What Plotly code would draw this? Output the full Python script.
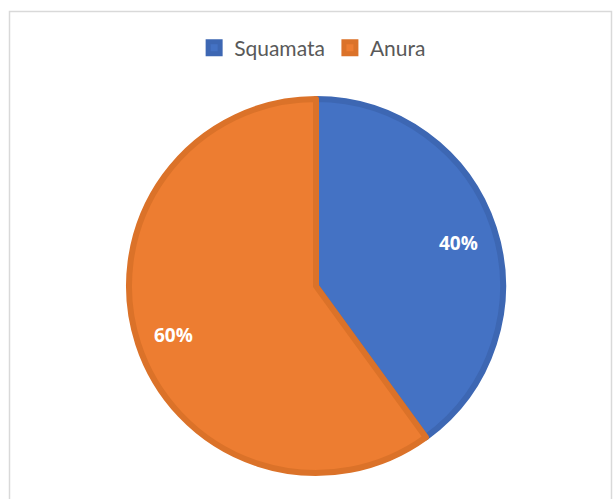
import math
import plotly.graph_objects as go

labels = ["Squamata", "Anura"]
values = [40, 60]
colors = ["#4472C4", "#ED7D31"]
edge_colors = ["#3D67B3", "#DB7229"]

W, H = 613, 499
cx, cy, r = 316, 286, 187

fig = go.Figure()
fig.add_trace(go.Pie(
    labels=labels,
    values=values,
    sort=False,
    direction="clockwise",
    rotation=0,
    marker=dict(colors=colors, line=dict(color=edge_colors, width=6)),
    textinfo="none",
    domain=dict(x=[(cx - r) / W, (cx + r) / W], y=[1 - (cy + r) / H, 1 - (cy - r) / H]),
    hoverinfo="label+percent",
))

# percent labels placed at the slice mid-angles
total = sum(values)
annotations = []
start = 0.0
for v in values:
    mid = (start + v / 2) / total * 2 * math.pi
    start += v
    d = 0.80 * r
    px = cx + d * math.sin(mid)
    py = cy - d * math.cos(mid) + 3
    annotations.append(dict(
        x=px / W, y=1 - py / H, xref="paper", yref="paper",
        text=f"<b>{round(v / total * 100)}%</b>", showarrow=False,
        font=dict(family="Open Sans", size=19, color="white"),
        xanchor="center", yanchor="middle",
    ))

fig.update_layout(
    width=W, height=H,
    margin=dict(l=0, r=0, t=0, b=0),
    paper_bgcolor="white",
    showlegend=True,
    legend=dict(
        orientation="h", x=0.51, xanchor="center", y=1 - 48 / H, yanchor="middle",
        font=dict(family="Lato", size=21, color="#595959"),
        itemwidth=30, traceorder="normal",
    ),
    annotations=annotations,
    shapes=[dict(
        type="rect", xref="paper", yref="paper",
        x0=9.5 / W, x1=611.5 / W, y0=-0.02, y1=1 - 11.5 / H,
        line=dict(color="#D9D9D9", width=1.5), fillcolor="rgba(0,0,0,0)", layer="below",
    )],
)

fig.write_html("out.html")
